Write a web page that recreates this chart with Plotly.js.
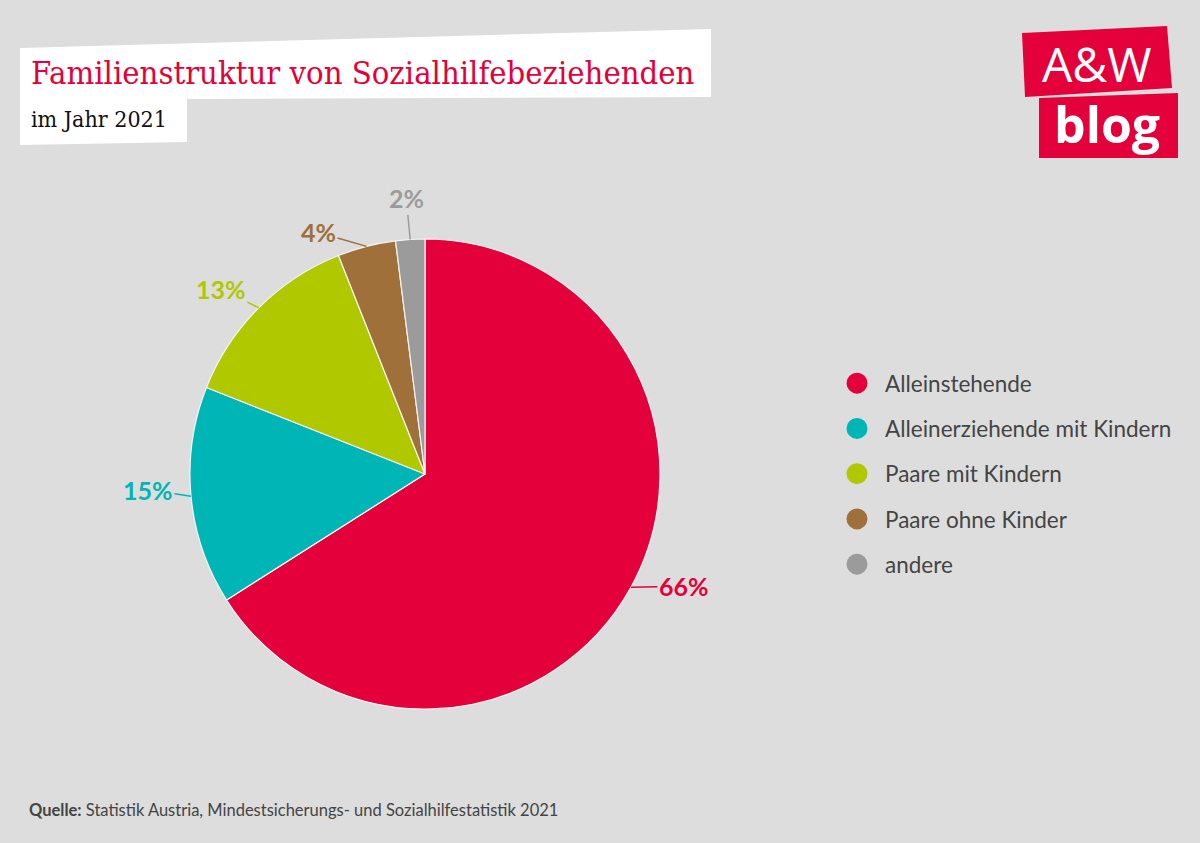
<!DOCTYPE html>
<html>
<head>
<meta charset="utf-8">
<script src="https://cdn.plot.ly/plotly-3.0.1.min.js"></script>
<style>html,body{margin:0;padding:0;background:#dddddd;}#chart{width:1200px;height:843px;}</style>
</head>
<body>
<div id="chart"></div>
<script>
// ---- data ----
const categories = ["Alleinstehende", "Alleinerziehende mit Kindern", "Paare mit Kindern", "Paare ohne Kinder", "andere"];
const shares = [66, 15, 13, 4, 2];
const pctLabels = ["66%", "15%", "13%", "4%", "2%"];
const titleText = "Familienstruktur von Sozialhilfebeziehenden";
const subtitleText = "im Jahr 2021";
const sourceText = "<b>Quelle:</b> Statistik Austria, Mindestsicherungs- und Sozialhilfestatistik 2021";

// ---- style ----
const colors = ["#e4003a", "#00b5b5", "#afc800", "#a0703a", "#9b9b9b"];
const labelOffsets = [[53, -1], [-43, -6], [-38, -19], [-48, -14], [-4, -41]];
const W = 1200, H = 843;
const dom = {x: [0.1583, 0.5500], y: [0.1589, 0.7165]};
const cx = W * (dom.x[0] + dom.x[1]) / 2;
const cy = H * (1 - (dom.y[0] + dom.y[1]) / 2);
const R = Math.min(W * (dom.x[1] - dom.x[0]), H * (dom.y[1] - dom.y[0])) / 2;

const total = shares.reduce((a, b) => a + b, 0);
let cum = 0;
const labelAnns = shares.map((v, i) => {
  const mid = (cum + v / 2) / total * 2 * Math.PI;
  cum += v;
  return {
    x: cx + R * Math.sin(mid), y: cy - R * Math.cos(mid),
    xref: 'x', yref: 'y',
    ax: labelOffsets[i][0], ay: labelOffsets[i][1],
    text: '<b>' + pctLabels[i] + '</b>',
    showarrow: true, arrowhead: 0, arrowwidth: 1.5, arrowcolor: colors[i], standoff: 0,
    font: {family: 'Lato', size: 25, color: colors[i]}
  };
});

const traces = [{
  type: 'pie', values: shares, labels: categories,
  marker: {colors: colors, line: {color: '#f4f4f4', width: 1.2}},
  sort: false, direction: 'clockwise', rotation: 0,
  textinfo: 'none', showlegend: false, domain: dom,
  hovertemplate: '%{label}: %{value}%<extra></extra>'
}];
categories.forEach((c, i) => {
  traces.push({
    type: 'scatter', mode: 'markers', x: [null], y: [null], name: c,
    legendgroup: 'g' + i, showlegend: true,
    marker: {color: colors[i], size: 16, line: {color: colors[i], width: 5}},
    hoverinfo: 'skip'
  });
});

const layout = {
  width: W, height: H,
  margin: {l: 0, r: 0, t: 0, b: 0},
  paper_bgcolor: '#dddddd', plot_bgcolor: 'rgba(0,0,0,0)',
  xaxis: {range: [0, W], visible: false, fixedrange: true, domain: [0, 1]},
  yaxis: {range: [H, 0], visible: false, fixedrange: true, domain: [0, 1]},
  showlegend: true,
  legend: {
    x: 829 / W, xanchor: 'left', y: 1 - 362 / H, yanchor: 'top',
    font: {family: 'Lato', size: 22.5, color: '#444444'},
    bgcolor: 'rgba(0,0,0,0)', tracegroupgap: 13, traceorder: 'grouped', itemwidth: 46,
    itemclick: false, itemdoubleclick: false
  },
  shapes: [
    {type: 'path', xref: 'x', yref: 'y', path: 'M20,48 L711,29 L711,97 L187,99 L187,142 L20,145 Z',
     fillcolor: '#ffffff', line: {width: 0}, layer: 'below'},
    {type: 'path', xref: 'x', yref: 'y', path: 'M1022,33 L1167,26 L1172,88 L1025,97 Z',
     fillcolor: '#e4003a', line: {width: 0}, layer: 'below'},
    {type: 'path', xref: 'x', yref: 'y', path: 'M1039,98 L1178,93 L1178,158 L1039,158 Z',
     fillcolor: '#e4003a', line: {width: 0}, layer: 'below'}
  ],
  annotations: [
    {x: 29, y: 73, xref: 'x', yref: 'y', xanchor: 'left', yanchor: 'middle', showarrow: false,
     text: titleText, font: {family: 'DejaVu Serif Condensed, Liberation Serif, serif', size: 32.5, color: '#e4003a'}},
    {x: 29, y: 119, xref: 'x', yref: 'y', xanchor: 'left', yanchor: 'middle', showarrow: false,
     text: subtitleText, font: {family: 'DejaVu Serif Condensed, Liberation Serif, serif', size: 23, color: '#111111'}},
    {x: 1097, y: 63, xref: 'x', yref: 'y', xanchor: 'center', yanchor: 'middle', showarrow: false,
     text: 'A&amp;W', font: {family: 'Open Sans', size: 48, color: '#ffffff'}},
    {x: 1107, y: 124, xref: 'x', yref: 'y', xanchor: 'center', yanchor: 'middle', showarrow: false,
     text: '<b>blog</b>', font: {family: 'Open Sans', size: 50, color: '#ffffff'}},
    {x: 27, y: 810, xref: 'x', yref: 'y', xanchor: 'left', yanchor: 'middle', showarrow: false,
     text: sourceText, font: {family: 'Lato', size: 16.5, color: '#444444'}}
  ].concat(labelAnns)
};

Plotly.newPlot('chart', traces, layout, {displayModeBar: false});
</script>
</body>
</html>
